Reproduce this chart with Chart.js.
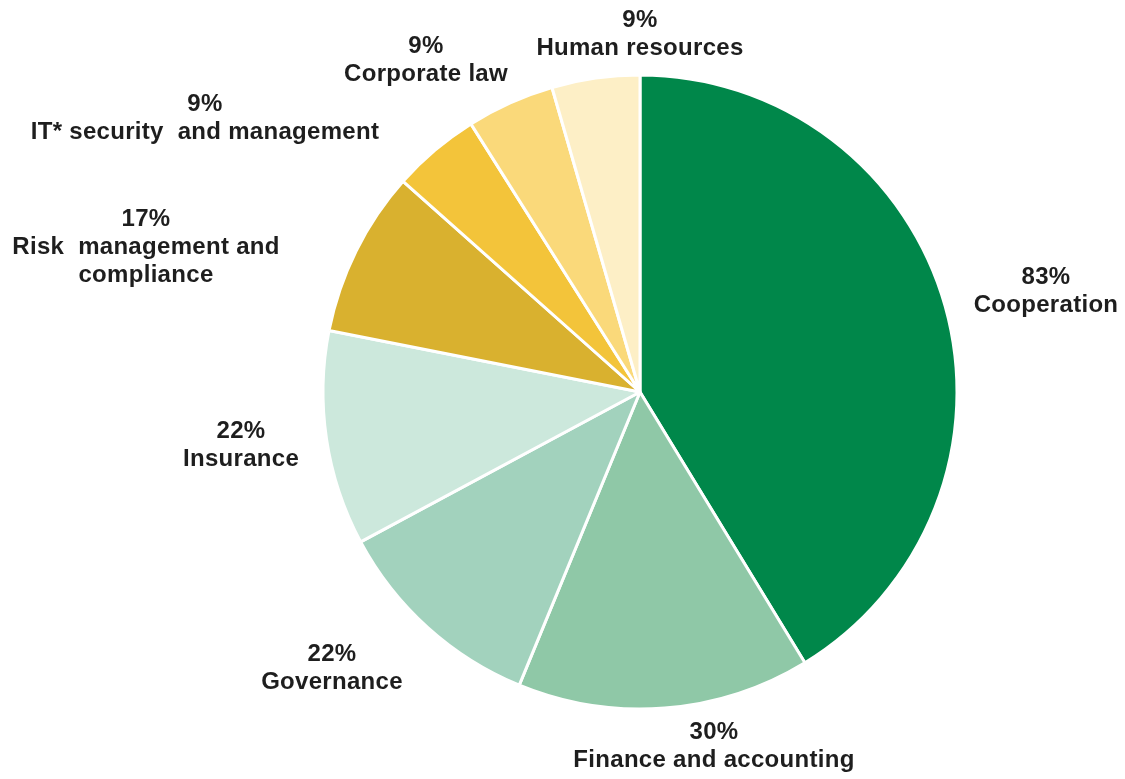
<!DOCTYPE html>
<html>
<head>
<meta charset="utf-8">
<title>Areas of activity</title>
<script src="https://cdn.jsdelivr.net/npm/chart.js@4.4.1/dist/chart.umd.min.js"></script>
<style>
  html, body { margin: 0; padding: 0; background: #ffffff; }
  #wrap { width: 1125px; height: 779px; }
</style>
</head>
<body>
<div id="wrap"><canvas id="pie" width="1125" height="779"></canvas></div>
<script>
// Slices, clockwise from twelve o'clock
const categories = [
  ['Cooperation'],
  ['Finance and accounting'],
  ['Governance'],
  ['Insurance'],
  ['Risk  management and', 'compliance'],
  ['IT* security  and management'],
  ['Corporate law'],
  ['Human resources']
];
const shares = [83, 30, 22, 22, 17, 9, 9, 9];
const sliceColors = ['#00874a', '#8fc8a7', '#a2d2bd', '#cce8dc', '#d9b12f', '#f3c43a', '#fad97a', '#fdefc6'];

// Where each label block sits, relative to the pie centre
const labelOffsets = [
  [406, -101], [74, 354], [-308, 276], [-399, 53],
  [-494, -145], [-435, -274], [-214, -332], [0, -358]
];

const LINE_H = 28;

const outsideLabels = {
  id: 'outsideLabels',
  afterDatasetsDraw(chart) {
    const { ctx } = chart;
    const meta = chart.getDatasetMeta(0);
    ctx.save();
    ctx.fillStyle = '#1e1e1e';
    ctx.textAlign = 'center';
    ctx.textBaseline = 'middle';
    ctx.font = 'bold 24px "Liberation Sans", Arial, sans-serif';
    if ('letterSpacing' in ctx) ctx.letterSpacing = '0.3px';
    meta.data.forEach((arc, i) => {
      const lines = [shares[i] + '%', ...categories[i]];
      const [dx, dy] = labelOffsets[i];
      const cx = arc.x + dx;
      const top = arc.y + dy - (lines.length - 1) * LINE_H / 2;
      lines.forEach((t, k) => ctx.fillText(t, cx, top + k * LINE_H));
    });
    ctx.restore();
  }
};

new Chart(document.getElementById('pie'), {
  type: 'pie',
  data: {
    labels: categories.map(l => l.join(' ')),
    datasets: [{
      data: shares,
      backgroundColor: sliceColors,
      borderColor: '#ffffff',
      borderWidth: 3
    }]
  },
  options: {
    responsive: false,
    animation: false,
    radius: 317,
    layout: { padding: { left: 155, top: 5, right: 0, bottom: 0 } },
    plugins: {
      legend: { display: false },
      tooltip: { enabled: false }
    },
    events: []
  },
  plugins: [outsideLabels]
});
</script>
</body>
</html>
